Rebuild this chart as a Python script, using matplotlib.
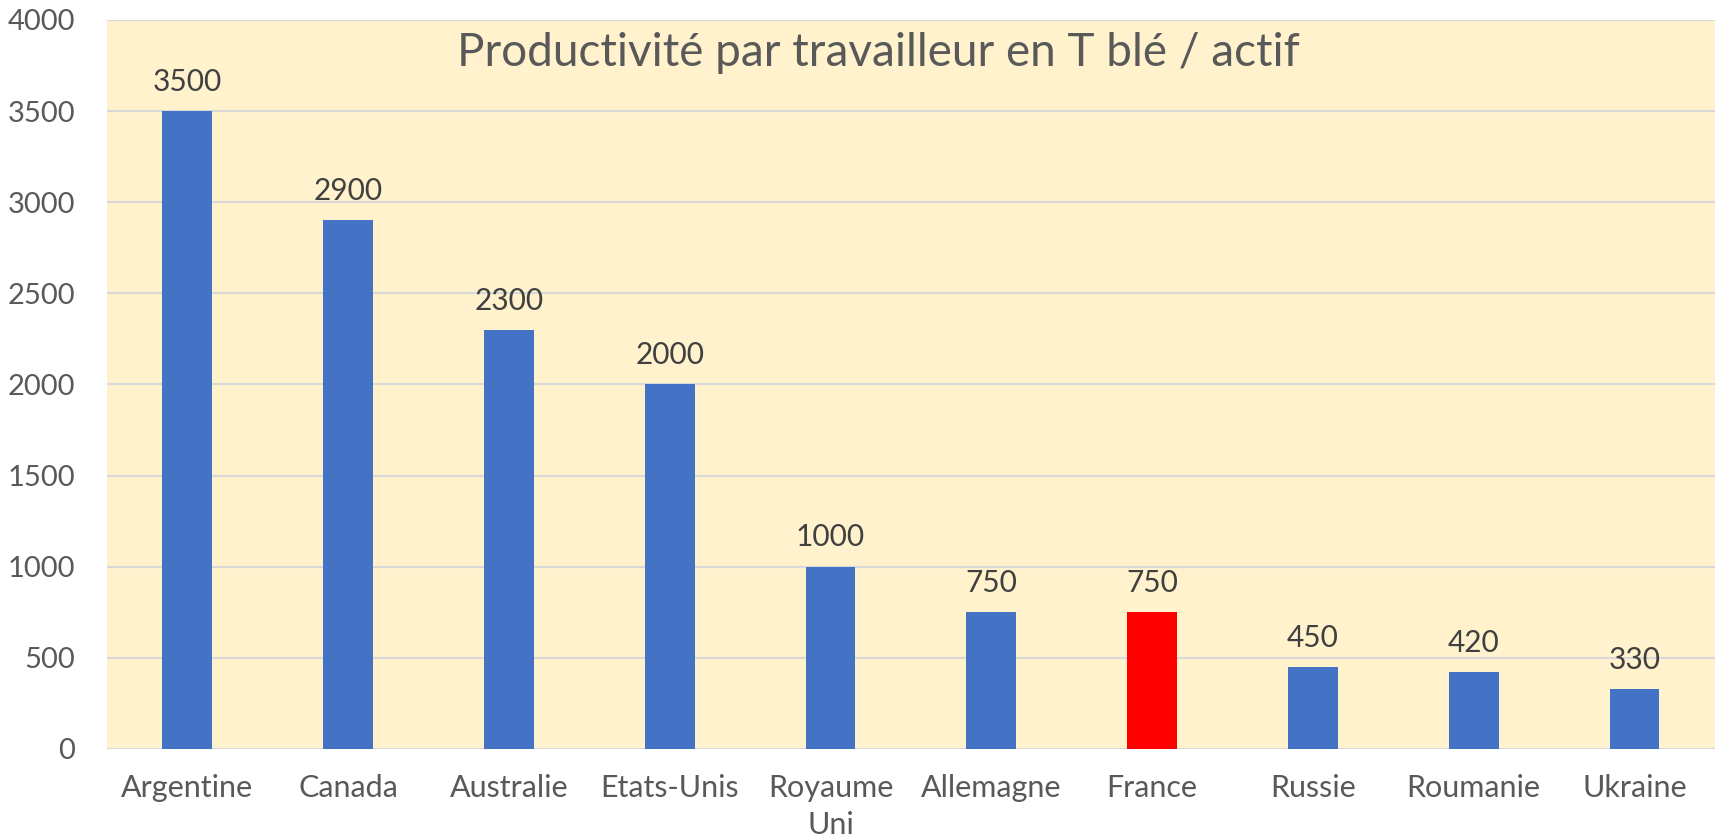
import matplotlib.pyplot as plt

# data
countries = ['Argentine', 'Canada', 'Australie', 'Etats-Unis', 'Royaume\nUni',
             'Allemagne', 'France', 'Russie', 'Roumanie', 'Ukraine']
values = [3500, 2900, 2300, 2000, 1000, 750, 750, 450, 420, 330]
highlight = 'France'
title = 'Productivité par travailleur en T blé / actif'

plt.rcParams['font.family'] = ['Lato', 'DejaVu Sans']

fig = plt.figure(figsize=(17.17, 8.39), dpi=100)
ax = fig.add_axes([0.0623, 0.1073, 0.9365, 0.8689])
ax.set_facecolor('#fff2cc')

colors = ['#ff0000' if c == highlight else '#4472c4' for c in countries]
x = range(len(countries))
bars = ax.bar(x, values, width=0.31, color=colors, zorder=3)

# value labels above each bar
for b, v in zip(bars, values):
    ax.annotate(str(v), (b.get_x() + b.get_width() / 2, b.get_height()),
                xytext=(0, 11), textcoords='offset points',
                ha='center', va='bottom', fontsize=21.5, color='#404040')

ax.set_xlim(-0.5, len(countries) - 0.5)
ax.set_ylim(0, 4000)
ax.set_yticks(range(0, 4001, 500))
ax.set_xticks(list(x))
ax.set_xticklabels(countries, linespacing=1.4)
ax.tick_params(axis='both', length=0, labelsize=22, labelcolor='#595959')
ax.tick_params(axis='y', pad=23, labelsize=21)
ax.tick_params(axis='x', pad=18)

ax.grid(axis='y', color='#d9d9d9', linewidth=1.5, zorder=0)
for s in ax.spines.values():
    s.set_visible(False)

ax.text(0.48, 0.955, title, transform=ax.transAxes, ha='center', va='center',
        fontsize=33, color='#595959')

fig.savefig('out.png', dpi=100)
